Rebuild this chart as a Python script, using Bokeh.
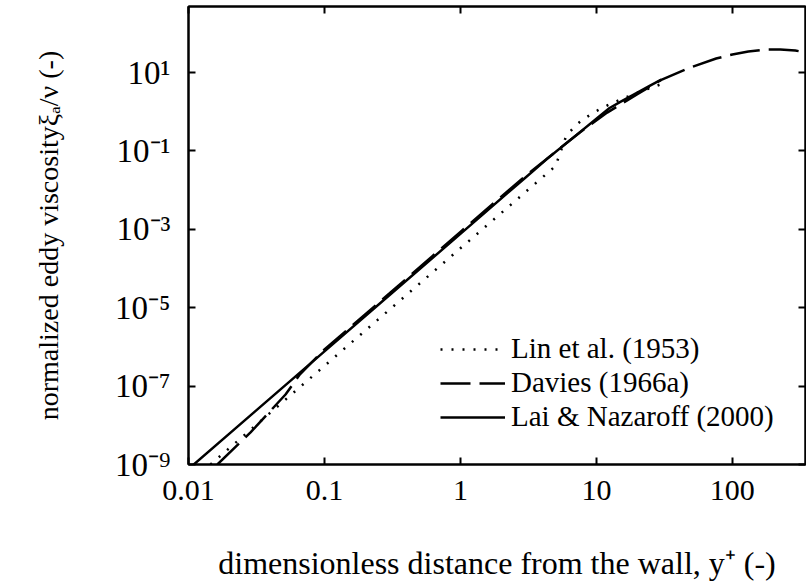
from bokeh.plotting import figure
from bokeh.models import (Range1d, LogAxis, FixedTicker, CustomJSTickFormatter,
                          Legend, LegendItem)
from bokeh.embed import file_html
from bokeh.resources import INLINE

# ---- data (y+ , eddy viscosity ratio) ----
lin_x = [0.0145, 0.03, 0.1, 0.3, 1.0, 2.0, 3.0, 5.0, 6.0, 7.0, 8.0, 10.0, 12.0, 15.0, 20.0, 25.0, 30.0]
lin_y = [1.0e-9, 8.86e-9, 3.28e-7, 8.86e-6, 3.28e-4, 2.62e-3, 8.86e-3, 0.041, 0.241, 0.441, 0.641,
         1.041, 1.441, 2.041, 3.041, 4.041, 5.041]

davies_x = [0.0163, 0.0286, 0.0517, 0.066, 0.1, 0.3, 1.0, 3.0, 7.6, 12.0, 20.0, 30.0,
            49.0, 76.0, 100.0, 131.0, 175.0, 225.0, 290.0, 350.0]
davies_y = [1.0e-9, 6.6e-9, 6.1e-8, 2.0e-7, 8.6e-7, 2.3e-5, 8.6e-4, 0.023, 0.30, 0.95, 2.8, 6.5,
            13.4, 22.7, 28.8, 34.3, 38.6, 38.6, 36.4, 32.4]

lai_x = [0.01, 0.03, 0.1, 0.3, 1.0, 3.0, 4.3, 7.0, 10.0, 12.5, 15.0, 20.0, 25.0, 30.0]
lai_y = [7.67e-10, 2.07e-8, 7.67e-7, 2.07e-5, 7.67e-4, 0.0207, 0.061, 0.242, 0.663, 1.245,
         1.785, 3.07, 4.69, 6.61]

x_ticks = [0.01, 0.1, 1, 10, 100]
y_ticks = [1e-9, 1e-7, 1e-5, 1e-3, 1e-1, 1e1]

series_labels = ["Lin et al. (1953)", "Davies (1966a)", "Lai & Nazaroff (2000)"]

FONT = "Liberation Serif"

p = figure(width=806, height=584, x_axis_type="log", y_axis_type="log",
           x_range=Range1d(0.01, 345), y_range=Range1d(1e-9, 483),
           output_backend="svg", toolbar_location=None,
           min_border_left=188, min_border_right=1, min_border_top=6, min_border_bottom=120)

p.background_fill_color = "white"
p.border_fill_color = "white"
p.grid.visible = False
p.outline_line_color = "black"
p.outline_line_width = 2

x_fmt = CustomJSTickFormatter(code="return tick < 1 ? tick.toString() : tick.toFixed(0);")
y_fmt = CustomJSTickFormatter(code="""
const sup = {'-':'\u207b','0':'\u2070','1':'\u00b9','2':'\u00b2','3':'\u00b3','4':'\u2074',
             '5':'\u2075','6':'\u2076','7':'\u2077','8':'\u2078','9':'\u2079'};
const e = Math.round(Math.log10(tick));
return '10' + String(e).split('').map(c => sup[c]).join('');
""")
blank = CustomJSTickFormatter(code="return '';")

def style(ax):
    ax.major_tick_in = 7
    ax.major_tick_out = 0
    ax.minor_tick_line_color = None
    ax.major_tick_line_width = 2
    ax.axis_line_width = 2
    ax.major_label_text_font = FONT
    ax.major_label_text_font_size = "30px"
    ax.major_label_text_color = "black"
    ax.axis_label_text_font = FONT
    ax.axis_label_text_font_size = "32px"
    ax.axis_label_text_font_style = "normal"
    ax.axis_label_text_color = "black"

xa = p.xaxis[0]
style(xa)
xa.ticker = FixedTicker(ticks=x_ticks)
xa.formatter = x_fmt
xa.major_label_standoff = 16
xa.axis_label = "dimensionless distance from the wall, y\u207a (-)"
xa.axis_label_standoff = 42

ya = p.yaxis[0]
style(ya)
ya.ticker = FixedTicker(ticks=y_ticks)
ya.formatter = y_fmt
ya.major_label_text_font_size = "33px"
ya.major_label_standoff = 18
ya.axis_label = "normalized eddy viscosity\u03be\u2090/\u03bd (-)"
ya.axis_label_text_font_size = "28px"
ya.axis_label_standoff = 48

top = LogAxis(ticker=FixedTicker(ticks=x_ticks), formatter=blank)
style(top)
top.major_label_standoff = 0
p.add_layout(top, "above")

right = LogAxis(ticker=FixedTicker(ticks=y_ticks), formatter=blank)
style(right)
right.major_label_standoff = 0
p.add_layout(right, "right")

r_lin = p.line(lin_x, lin_y, line_color="black", line_width=2.5, line_dash="2 9")
r_dav = p.line(davies_x, davies_y, line_color="black", line_width=2.5, line_dash="30 9")
r_lai = p.line(lai_x, lai_y, line_color="black", line_width=2.5)

# one legend per row so that the row pitch matches the reference
for label, rend, ypos in zip(series_labels, [r_lin, r_dav, r_lai], [99, 65, 31]):
    lg = Legend(items=[LegendItem(label=label, renderers=[rend])], location=(252, ypos))
    lg.label_text_font = FONT
    lg.label_text_font_size = "29px"
    lg.label_text_color = "black"
    lg.glyph_width = 65
    lg.label_standoff = 6
    lg.padding = 0
    lg.margin = 0
    lg.spacing = 0
    lg.border_line_color = None
    lg.background_fill_alpha = 0
    p.add_layout(lg)

open("out.html", "w").write(file_html(p, INLINE))
